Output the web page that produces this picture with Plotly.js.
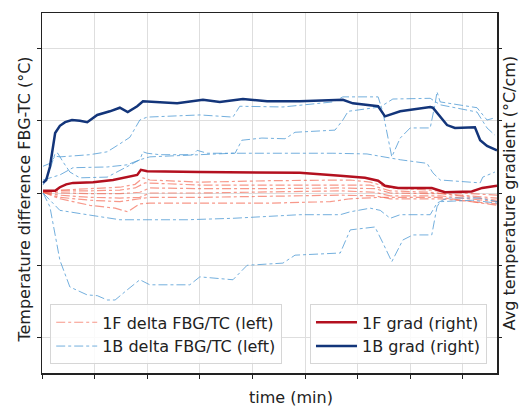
<!DOCTYPE html>
<html>
<head>
<meta charset="utf-8">
<script src="https://cdn.plot.ly/plotly-3.0.1.min.js"></script>
<style>html,body{margin:0;padding:0;background:#fff}#chart{width:523px;height:407px}</style>
</head>
<body>
<div id="chart"></div>
<script>
// ---- data (time in arbitrary minute units) ----
const grad1F_t = [0.02,0.25,0.34,0.46,0.59,0.97,1.35,1.62,1.81,1.88,2.0,3.0,4.33,4.9,5.67,6.14,6.39,6.52,6.77,7.41,7.66,8.17,8.37,8.65];
const grad1F_v = [0.03,0.03,0.08,0.12,0.14,0.15,0.18,0.22,0.25,0.32,0.30,0.29,0.28,0.28,0.24,0.21,0.17,0.10,0.07,0.07,0.01,0.02,0.07,0.10];

const grad1B_t = [0.02,0.08,0.15,0.25,0.34,0.44,0.57,0.72,0.86,1.05,1.29,1.48,1.63,1.81,1.92,2.24,2.57,3.06,3.38,3.82,4.28,4.90,5.72,5.91,6.39,6.52,6.81,7.38,7.43,7.70,7.85,8.23,8.33,8.46,8.65];
const grad1B_v = [0.14,0.18,0.36,0.83,0.93,0.98,1.01,1.00,0.98,1.08,1.13,1.18,1.12,1.20,1.27,1.26,1.24,1.29,1.26,1.30,1.27,1.27,1.29,1.24,1.20,1.06,1.13,1.19,1.18,0.94,0.90,0.91,0.73,0.65,0.59];

// 1B delta FBG/TC series
const d1B_a_t = [0.02,0.15,0.25,0.34,0.91,1.24,1.48,1.67,1.86,2.00,3.00,3.63,3.76,4.58,5.53,5.72,6.39,6.48,6.65,6.81,7.00,7.38,7.47,7.51,7.57,8.27,8.46,8.61];
const d1B_a_v = [0.37,0.41,0.51,0.50,0.53,0.57,0.68,0.77,1.01,1.05,1.08,1.05,1.20,1.19,1.26,1.33,1.33,1.12,0.50,0.76,0.90,0.90,1.22,1.40,1.26,1.18,1.01,1.04];
const d1B_b_t = [0.02,0.15,0.25,0.30,0.40,0.53,0.72,0.91,1.24,1.58,1.86,1.92,2.00,2.24,2.87,2.95,3.14,3.67,3.80,4.18,4.62,4.81,5.57,5.72,5.82,6.43,6.67,7.38,7.57,8.27,8.46,8.61];
const d1B_b_v = [0.11,0.32,0.55,0.55,0.43,0.29,0.21,0.21,0.22,0.35,0.46,0.57,0.55,0.53,0.53,0.59,0.55,0.55,0.73,0.76,0.75,0.84,0.87,1.01,1.13,1.19,1.30,1.31,1.22,1.12,0.90,0.80];
const d1B_c_t = [0.02,0.34,0.59,1.24,1.62,1.86,2.05,3.00,3.63,5.53,6.18,6.81,7.32,7.43,7.57,8.33,8.38,8.61];
const d1B_c_v = [0.18,0.25,0.35,0.36,0.39,0.46,0.50,0.53,0.55,0.55,0.54,0.46,0.41,0.28,0.18,0.14,0.22,0.29];
const d1B_d_t = [0.02,0.15,0.34,0.86,1.48,2.76,3.63,4.90,5.67,5.86,6.24,6.43,6.62,6.81,7.38,7.51,7.70,8.33,8.65];
const d1B_d_v = [0.00,-0.10,-0.24,-0.30,-0.37,-0.37,-0.35,-0.30,-0.30,-0.26,-0.21,-0.24,-0.35,-0.30,-0.30,-0.14,-0.07,-0.07,-0.12];
const d1B_e_t = [0.02,0.15,0.34,0.53,0.86,1.05,1.24,1.39,1.62,1.86,2.05,2.81,3.00,3.63,3.90,4.58,4.81,5.67,5.86,6.33,6.48,6.65,6.86,7.05,7.41,7.51,7.57,8.19,8.65];
const d1B_e_v = [0.00,-0.19,-0.93,-1.30,-1.41,-1.42,-1.48,-1.48,-1.34,-1.20,-1.27,-1.27,-1.16,-1.20,-1.00,-0.97,-0.86,-0.83,-0.51,-0.47,-0.69,-0.95,-0.65,-0.58,-0.58,-0.19,-0.12,-0.10,-0.14];

// 1F delta FBG/TC series
const d1F_a_t = [0.02,0.34,0.91,1.48,1.77,1.92,2.05,3.00,4.33,5.48,5.86,6.24,6.62,7.38,7.95,8.65];
const d1F_a_v = [0.01,0.04,0.06,0.08,0.12,0.21,0.18,0.15,0.17,0.18,0.18,0.15,0.07,0.04,0.00,-0.03];
const d1F_b_t = [0.02,0.34,0.91,1.48,1.77,1.96,3.00,4.33,5.48,6.24,6.62,7.38,7.95,8.65];
const d1F_b_v = [0.01,0.03,0.03,0.04,0.07,0.14,0.11,0.11,0.12,0.11,0.03,0.01,-0.03,-0.07];
const d1F_c_t = [0.02,0.34,0.91,1.48,1.86,2.05,3.00,4.33,5.67,6.33,6.62,7.57,8.65];
const d1F_c_v = [0.01,0.00,-0.01,-0.01,0.01,0.07,0.06,0.06,0.07,0.06,0.00,-0.01,-0.10];
const d1F_d_t = [0.02,0.34,0.91,1.48,1.86,2.05,3.00,4.33,5.67,6.33,6.62,7.57,8.65];
const d1F_d_v = [0.01,-0.03,-0.06,-0.07,-0.06,0.00,0.00,0.01,0.03,0.01,-0.04,-0.04,-0.12];
const d1F_e_t = [0.02,0.34,0.91,1.48,1.86,2.05,3.00,4.33,5.67,6.33,6.62,7.57,8.65];
const d1F_e_v = [0.01,-0.06,-0.10,-0.12,-0.08,-0.06,-0.06,-0.04,-0.03,-0.04,-0.08,-0.08,-0.15];
const d1F_f_t = [0.02,0.34,0.91,1.39,1.63,1.86,2.05,3.00,4.33,5.48,5.86,6.43,6.62,7.57,8.65];
const d1F_f_v = [0.01,-0.08,-0.17,-0.21,-0.26,-0.15,-0.14,-0.14,-0.14,-0.12,-0.08,-0.06,-0.06,-0.06,-0.17];

const xTicks = [0,1,2,3,4,5,6,7,8];
const yTicks = [-2,-1,0,1,2];

const legendLabels = ["1F delta FBG/TC (left)","1B delta FBG/TC (left)","1F grad (right)","1B grad (right)"];
const xTitle = "time (min)";
const yTitle = "Temperature difference FBG-TC (°C)";
const y2Title = "Avg temperature gradient (°C/cm)";

// ---- traces ----
const redDelta = [[d1F_a_t,d1F_a_v],[d1F_b_t,d1F_b_v],[d1F_c_t,d1F_c_v],[d1F_d_t,d1F_d_v],[d1F_e_t,d1F_e_v],[d1F_f_t,d1F_f_v]];
const blueDelta = [[d1B_a_t,d1B_a_v],[d1B_b_t,d1B_b_v],[d1B_c_t,d1B_c_v],[d1B_d_t,d1B_d_v],[d1B_e_t,d1B_e_v]];

const traces = [];
redDelta.forEach((s,i)=>traces.push({
  x:s[0], y:s[1], type:'scatter', mode:'lines', name:legendLabels[0],
  showlegend:i===0, legend:'legend',
  line:{color:'rgba(242,88,66,0.62)', width:1.2, dash:'dashdot'}
}));
blueDelta.forEach((s,i)=>traces.push({
  x:s[0], y:s[1], type:'scatter', mode:'lines', name:legendLabels[1],
  showlegend:i===0, legend:'legend',
  line:{color:'rgba(80,155,212,0.8)', width:1, dash:'dashdot'}
}));
traces.push({x:grad1F_t, y:grad1F_v, yaxis:'y2', type:'scatter', mode:'lines', name:legendLabels[2], legend:'legend2',
  line:{color:'#b3101f', width:2.5}});
traces.push({x:grad1B_t, y:grad1B_v, yaxis:'y2', type:'scatter', mode:'lines', name:legendLabels[3], legend:'legend2',
  line:{color:'#13357a', width:2.5}});

const font = {family:'DejaVu Sans, sans-serif', size:16, color:'#222'};
const legendCommon = {
  bgcolor:'rgba(255,255,255,0.85)', bordercolor:'#d6d6d6', borderwidth:1,
  font:{family:'DejaVu Sans, sans-serif', size:16, color:'#222'},
  itemwidth:41,
  yanchor:'bottom', y:0.024
};

const layout = {
  width:523, height:407,
  margin:{l:42, r:26, t:13, b:34},
  paper_bgcolor:'#fff', plot_bgcolor:'#fff',
  font:font,
  xaxis:{
    range:[0,8.65], tickvals:xTicks, showticklabels:false,
    ticks:'outside', ticklen:4, tickcolor:'#222',
    showgrid:true, gridcolor:'#dedede', gridwidth:1, zeroline:false,
    showline:true, mirror:true, linecolor:'#222', linewidth:1.5,
    automargin:false
  },
  yaxis:{
    range:[-2.49,2.49], tickvals:yTicks, showticklabels:false,
    ticks:'outside', ticklen:4, tickcolor:'#222',
    showgrid:true, gridcolor:'#dedede', gridwidth:1, zeroline:false,
    showline:true, mirror:true, linecolor:'#222', linewidth:1.5,
    automargin:false
  },
  yaxis2:{
    overlaying:'y', side:'right',
    range:[-2.49,2.49], tickvals:yTicks, showticklabels:false,
    ticks:'outside', ticklen:4, tickcolor:'#222',
    showgrid:false, zeroline:false, showline:false,
    title:{text:y2Title, font:font, standoff:2}, automargin:false
  },
  annotations:[
    {text:xTitle, xref:'paper', yref:'paper', x:0.547, y:-0.069, xanchor:'center', yanchor:'middle', showarrow:false, font:font},
    {text:yTitle, xref:'paper', yref:'paper', x:-0.0385, y:0.483, xanchor:'center', yanchor:'middle', textangle:-90, showarrow:false, font:font}
  ],
  legend: Object.assign({}, legendCommon, {x:0.018, xanchor:'left'}),
  legend2: Object.assign({}, legendCommon, {x:0.978, xanchor:'right'})
};

Plotly.newPlot('chart', traces, layout, {displayModeBar:false, staticPlot:true});
</script>
</body>
</html>
